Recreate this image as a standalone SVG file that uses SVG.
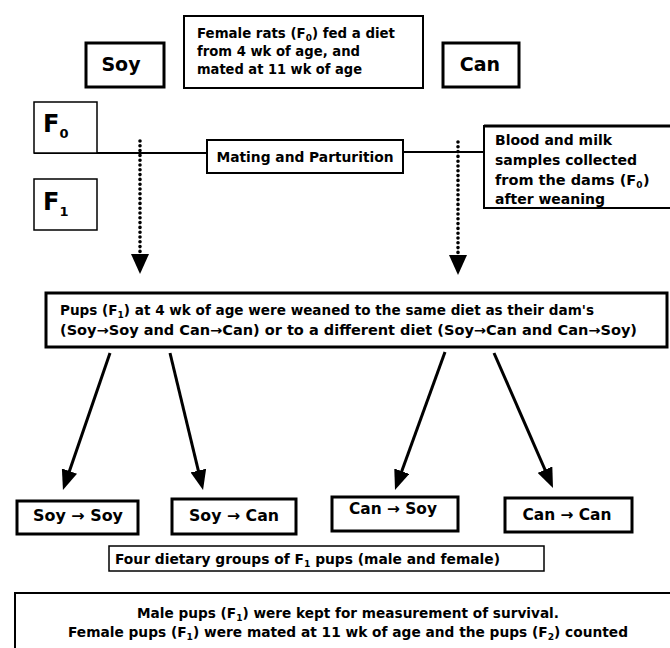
<svg xmlns="http://www.w3.org/2000/svg" width="670" height="648" viewBox="0 0 670 648">
<style>
  .box { fill: #fff; stroke: #000; }
  .thick { stroke-width: 3; }
  .mid { stroke-width: 2; }
  .thin { stroke-width: 1.5; }
  text { font-family: "DejaVu Sans", "Liberation Sans", sans-serif; font-weight: bold; fill: #000; }
  .t13 { font-size: 13.5px; }
  .t14 { font-size: 14.5px; }
  .t15 { font-size: 15.5px; }
  .big { font-size: 19px; }
  .gen { font-size: 24px; }
  .c { text-anchor: middle; }
  .conn { stroke: #000; fill: none; }
  .solid { stroke-width: 3; }
  .dots { stroke-width: 3.6; stroke-linecap: round; stroke-dasharray: 0 4.8; }
</style>
<defs>
  <marker id="ah" viewBox="0 0 20 16" refX="10" refY="8" markerWidth="20" markerHeight="16" markerUnits="userSpaceOnUse" orient="auto">
    <path d="M0,0 L20,8 L0,16 z" fill="#000"/>
  </marker>
  <marker id="dh" viewBox="0 0 20 18" refX="0" refY="9" markerWidth="20" markerHeight="18" markerUnits="userSpaceOnUse" orient="auto">
    <path d="M0,0 L20,9 L0,18 z" fill="#000"/>
  </marker>
</defs>
<rect width="670" height="648" fill="#fff"/>

<g id="connectors">
  <line class="conn mid" x1="34" y1="153" x2="207" y2="153"/>
  <line class="conn mid" x1="403" y1="152" x2="484" y2="152"/>
  <line class="conn dots" x1="140" y1="141" x2="140" y2="254" marker-end="url(#dh)"/>
  <line class="conn dots" x1="458" y1="142" x2="458" y2="255" marker-end="url(#dh)"/>
  <line class="conn solid" x1="110" y1="353" x2="66.2" y2="480.5" marker-end="url(#ah)"/>
  <line class="conn solid" x1="170" y1="353" x2="200.7" y2="480.3" marker-end="url(#ah)"/>
  <line class="conn solid" x1="445" y1="352" x2="398.4" y2="480.6" marker-end="url(#ah)"/>
  <line class="conn solid" x1="494" y1="353" x2="549" y2="478.8" marker-end="url(#ah)"/>
</g>

<g id="soy">
  <rect class="box thick" x="86" y="43" width="78" height="44"/>
  <text class="big c" x="121" y="71">Soy</text>
</g>
<g id="female-rats">
  <rect class="box mid" x="184" y="16" width="239" height="72"/>
  <text class="t13" x="197" y="38" textLength="198" lengthAdjust="spacingAndGlyphs">Female rats (F<tspan dy="3" font-size="9">0</tspan><tspan dy="-3">) fed a diet</tspan></text>
  <text class="t13" x="197" y="56" textLength="163" lengthAdjust="spacingAndGlyphs">from 4 wk of age, and</text>
  <text class="t13" x="197" y="74" textLength="165" lengthAdjust="spacingAndGlyphs">mated at 11 wk of age</text>
</g>
<g id="can">
  <rect class="box thick" x="443" y="43" width="76" height="44"/>
  <text class="big c" x="480" y="71">Can</text>
</g>
<g id="f0">
  <rect class="box thin" x="34" y="102" width="63" height="51"/>
  <text class="gen" x="43" y="132">F<tspan dy="6" font-size="13">0</tspan></text>
</g>
<g id="f1">
  <rect class="box thin" x="34" y="179" width="63" height="51"/>
  <text class="gen" x="43" y="210">F<tspan dy="6" font-size="13">1</tspan></text>
</g>
<g id="mating">
  <rect class="box mid" x="207" y="140" width="196" height="33"/>
  <text class="t14 c" x="305" y="162" textLength="177" lengthAdjust="spacingAndGlyphs">Mating and Parturition</text>
</g>
<g id="blood">
  <rect class="box mid" x="484" y="126" width="200" height="82"/>
  <line x1="484" y1="126" x2="670" y2="126" stroke="#000" stroke-width="3"/>
  <text class="t14" x="495" y="145" textLength="117" lengthAdjust="spacingAndGlyphs">Blood and milk</text>
  <text class="t14" x="495" y="165" textLength="142" lengthAdjust="spacingAndGlyphs">samples collected</text>
  <text class="t14" x="495" y="185">from the dams (F<tspan dy="3" font-size="9">0</tspan><tspan dy="-3" dx="0.5">)</tspan></text>
  <text class="t14" x="495" y="204" textLength="110" lengthAdjust="spacingAndGlyphs">after weaning</text>
  <line x1="484" y1="208" x2="670" y2="208" stroke="#000" stroke-width="2"/>
</g>
<g id="pups">
  <rect class="box thick" x="46" y="293" width="621" height="54"/>
  <text class="t13" x="60" y="315" textLength="534" lengthAdjust="spacingAndGlyphs">Pups (F<tspan dy="3" font-size="9">1</tspan><tspan dy="-3">) at 4 wk of age were weaned to the same diet as their dam's</tspan></text>
  <text class="t13" x="60" y="335" textLength="577" lengthAdjust="spacingAndGlyphs">(Soy→Soy and Can→Can) or to a different diet (Soy→Can and Can→Soy)</text>
</g>
<g id="soy-soy">
  <rect class="box thick" x="17" y="501" width="121" height="33"/>
  <text class="t15 c" x="78" y="521" textLength="90" lengthAdjust="spacingAndGlyphs">Soy → Soy</text>
</g>
<g id="soy-can">
  <rect class="box thick" x="172" y="499" width="124" height="35"/>
  <text class="t15 c" x="234" y="521" textLength="90" lengthAdjust="spacingAndGlyphs">Soy → Can</text>
</g>
<g id="can-soy">
  <rect class="box thick" x="332" y="497" width="126" height="34"/>
  <text class="t15 c" x="393" y="514" textLength="88" lengthAdjust="spacingAndGlyphs">Can → Soy</text>
</g>
<g id="can-can">
  <rect class="box thick" x="505" y="498" width="127" height="34"/>
  <text class="t15 c" x="567" y="520" textLength="89" lengthAdjust="spacingAndGlyphs">Can → Can</text>
</g>
<g id="four-groups">
  <rect class="box thin" x="109" y="546" width="435" height="25"/>
  <text class="t13" x="115" y="564" textLength="385" lengthAdjust="spacingAndGlyphs">Four dietary groups of F<tspan dy="3" font-size="9">1</tspan><tspan dy="-3"> pups (male and female)</tspan></text>
</g>
<g id="outcome">
  <rect class="box mid" x="15" y="593" width="680" height="80"/>
  <text class="t13 c" x="348" y="618" textLength="422" lengthAdjust="spacingAndGlyphs">Male pups (F<tspan dy="3" font-size="9">1</tspan><tspan dy="-3">) were kept for measurement of survival.</tspan></text>
  <text class="t13 c" x="348" y="637" textLength="560" lengthAdjust="spacingAndGlyphs">Female pups (F<tspan dy="3" font-size="9">1</tspan><tspan dy="-3">) were mated at 11 wk of age and the pups (F</tspan><tspan dy="3" font-size="9">2</tspan><tspan dy="-3">) counted</tspan></text>
</g>
</svg>
